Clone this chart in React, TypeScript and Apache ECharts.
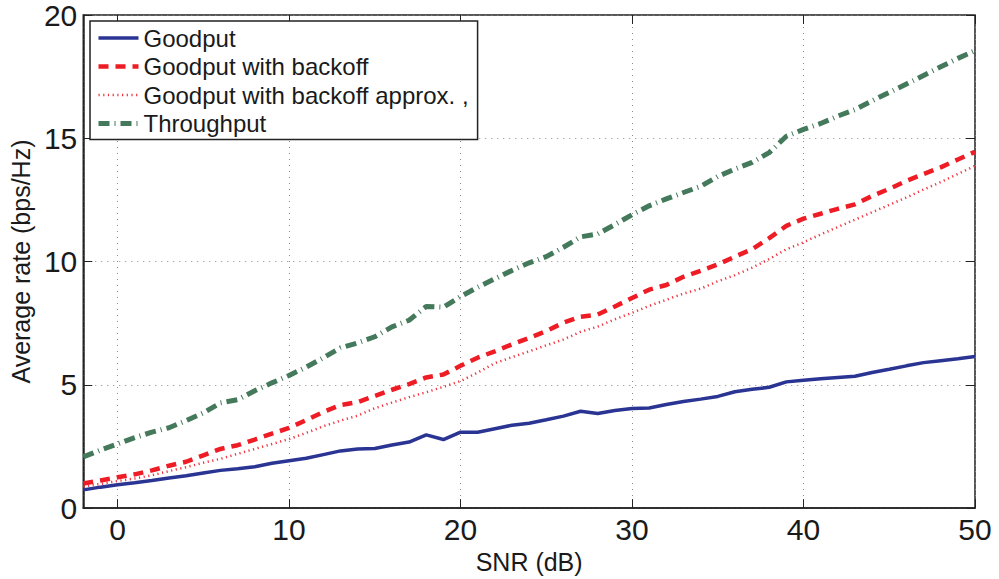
import React, { useEffect, useRef } from "react";
import * as echarts from "echarts";

const snr = [-2, -1, 0, 1, 2, 3, 4, 5, 6, 7, 8, 9, 10, 11, 12, 13, 14, 15, 16, 17, 18, 19, 20, 21, 22, 23, 24, 25, 26, 27, 28, 29, 30, 31, 32, 33, 34, 35, 36, 37, 38, 39, 40, 41, 42, 43, 44, 45, 46, 47, 48, 49, 50];

const goodput = [0.74, 0.85, 0.95, 1.03, 1.12, 1.22, 1.31, 1.42, 1.53, 1.6, 1.68, 1.82, 1.92, 2.02, 2.17, 2.32, 2.4, 2.42, 2.56, 2.68, 2.97, 2.78, 3.08, 3.08, 3.22, 3.36, 3.44, 3.58, 3.73, 3.93, 3.84, 3.96, 4.04, 4.06, 4.2, 4.32, 4.42, 4.53, 4.72, 4.82, 4.9, 5.12, 5.19, 5.25, 5.3, 5.35, 5.5, 5.63, 5.77, 5.9, 5.98, 6.06, 6.15];

const goodputBackoff = [1.0, 1.12, 1.25, 1.37, 1.53, 1.72, 1.88, 2.14, 2.4, 2.55, 2.78, 3.02, 3.25, 3.57, 3.9, 4.18, 4.3, 4.55, 4.8, 5.03, 5.3, 5.42, 5.77, 6.1, 6.36, 6.64, 6.9, 7.18, 7.52, 7.76, 7.85, 8.18, 8.52, 8.86, 9.05, 9.38, 9.62, 9.88, 10.2, 10.5, 10.95, 11.45, 11.74, 11.94, 12.14, 12.32, 12.66, 12.95, 13.27, 13.55, 13.82, 14.14, 14.45];

const goodputApprox = [0.88, 0.98, 1.1, 1.2, 1.33, 1.5, 1.66, 1.84, 2.0, 2.2, 2.4, 2.6, 2.8, 3.05, 3.32, 3.55, 3.75, 4.05, 4.28, 4.5, 4.7, 4.92, 5.15, 5.5, 5.88, 6.12, 6.36, 6.6, 6.84, 7.15, 7.36, 7.66, 7.92, 8.2, 8.45, 8.7, 8.9, 9.2, 9.45, 9.75, 10.1, 10.5, 10.78, 11.1, 11.4, 11.7, 12.0, 12.3, 12.6, 12.92, 13.22, 13.55, 13.88];

const throughput = [2.08, 2.35, 2.6, 2.86, 3.08, 3.26, 3.55, 3.86, 4.27, 4.4, 4.76, 5.08, 5.38, 5.72, 6.1, 6.5, 6.7, 6.95, 7.35, 7.62, 8.18, 8.15, 8.58, 8.96, 9.3, 9.64, 9.95, 10.2, 10.58, 11.0, 11.12, 11.5, 11.9, 12.26, 12.54, 12.8, 13.05, 13.45, 13.75, 14.02, 14.42, 15.08, 15.36, 15.6, 15.9, 16.16, 16.52, 16.86, 17.2, 17.55, 17.9, 18.24, 18.55];

const seriesNames = ["Goodput", "Goodput with backoff", "Goodput with backoff approx. ,", "Throughput"];
const xTitle = "SNR (dB)";
const yTitle = "Average rate (bps/Hz)";

const FONT = "'Liberation Sans', Arial, Helvetica, sans-serif";
const TXT = "#1a1a1a";

const pairs = (ys: number[]) => snr.map((x, i) => [x, ys[i]]);

export default function App() {
  const ref = useRef<HTMLDivElement>(null);
  useEffect(() => {
    if (!ref.current) return;
    const chart = echarts.init(ref.current, undefined, { renderer: "svg" });
    const grid = { left: 83, right: 24, top: 13, bottom: 69 };
    const splitLine = { show: true, lineStyle: { color: "#8a8a8a", type: [1, 5] as any, width: 1 } };
    const styles = [
      { color: "#2a3493", width: 3.5, type: "solid" as any },
      { color: "#ee1c25", width: 4.5, type: [10, 7] as any },
      { color: "#f0323c", width: 2.5, type: [1.2, 3.5] as any },
      { color: "#447a5b", width: 5, type: [11, 5, 1, 5] as any },
    ];
    chart.setOption({
      animation: false,
      backgroundColor: "#ffffff",
      textStyle: { fontFamily: FONT, color: TXT },
      grid: { ...grid, show: true, borderColor: "#222", borderWidth: 1.5, backgroundColor: "transparent" },
      legend: {
        orient: "vertical",
        left: 90,
        top: 21,
        width: 385,
        padding: [5, 9, 4, 6],
        itemWidth: 40,
        itemHeight: 14,
        itemGap: 4.5,
        borderColor: "#222",
        borderWidth: 1.5,
        backgroundColor: "#fff",
        itemStyle: { opacity: 0 },
        textStyle: { fontFamily: FONT, fontSize: 24, color: TXT, lineHeight: 24 },
        data: seriesNames.map((n, i) => ({ name: n, lineStyle: { ...styles[i] } })),
      },
      xAxis: [
        {
          type: "value",
          min: -2,
          max: 50,
          splitNumber: 5,
          name: xTitle,
          nameLocation: "middle",
          nameGap: 36,
          nameTextStyle: { fontFamily: FONT, fontSize: 25, color: TXT },
          axisLine: { show: true, onZero: false, lineStyle: { color: "#222", width: 1.5 } },
          axisTick: { show: true, inside: true, length: 9, lineStyle: { color: "#222", width: 1 } },
          axisLabel: { fontFamily: FONT, fontSize: 30, color: TXT, margin: 6, showMinLabel: false },
          splitLine,
        },
        {
          type: "value",
          position: "top",
          min: -2,
          max: 50,
          splitNumber: 5,
          axisLine: { show: false, onZero: false },
          axisTick: { show: true, inside: true, length: 9, lineStyle: { color: "#222", width: 1 } },
          axisLabel: { show: false },
          splitLine: { show: false },
        },
      ],
      yAxis: [
        {
          type: "value",
          min: 0,
          max: 20,
          interval: 5,
          name: yTitle,
          nameLocation: "middle",
          nameGap: 47,
          nameTextStyle: { fontFamily: FONT, fontSize: 25, color: TXT },
          axisLine: { show: true, onZero: false, lineStyle: { color: "#222", width: 1.5 } },
          axisTick: { show: true, inside: true, length: 9, lineStyle: { color: "#222", width: 1 } },
          axisLabel: { fontFamily: FONT, fontSize: 30, color: TXT, margin: 6 },
          splitLine,
        },
        {
          type: "value",
          position: "right",
          min: 0,
          max: 20,
          interval: 5,
          axisLine: { show: false, onZero: false },
          axisTick: { show: true, inside: true, length: 9, lineStyle: { color: "#222", width: 1 } },
          axisLabel: { show: false },
          splitLine: { show: false },
        },
      ],
      series: [goodput, goodputBackoff, goodputApprox, throughput].map((ys, i) => ({
        name: seriesNames[i],
        type: "line",
        data: pairs(ys),
        symbol: "none",
        lineStyle: styles[i],
        itemStyle: { color: styles[i].color },
        z: 5 - i,
      })),
    });
    return () => chart.dispose();
  }, []);
  return <div ref={ref} style={{ width: 999, height: 579, position: "absolute", left: 0, top: 0 }} />;
}
